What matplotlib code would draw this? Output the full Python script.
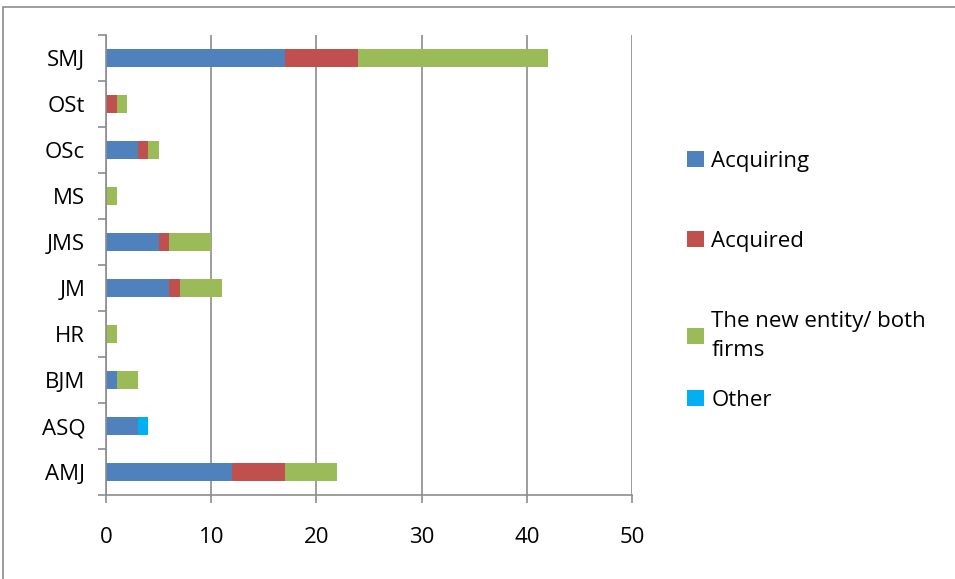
import numpy as np
import matplotlib.pyplot as plt
from matplotlib.patches import Rectangle

plt.rcParams['font.family'] = ['Open Sans', 'DejaVu Sans']

# Journals, bottom to top
journals = ['AMJ', 'ASQ', 'BJM', 'HR', 'JM', 'JMS', 'MS', 'OSc', 'OSt', 'SMJ']

acquiring = [12, 3, 1, 0, 6, 5, 0, 3, 0, 17]
acquired = [5, 0, 0, 0, 1, 1, 0, 1, 1, 7]
new_entity = [5, 0, 2, 1, 4, 4, 1, 1, 1, 18]
other = [0, 1, 0, 0, 0, 0, 0, 0, 0, 0]

series_names = ['Acquiring', 'Acquired', 'The new entity/ both\nfirms', 'Other']
series_colors = ['#4f81bd', '#c0504d', '#9bbb59', '#00b0f0']

FS = 16

fig = plt.figure(figsize=(9.55, 5.79), dpi=100)
ax = fig.add_axes([106 / 955, 1 - 495 / 579, (632 - 106) / 955, (495 - 35) / 579])

y = np.arange(len(journals))
left = np.zeros(len(journals))
handles = []
for vals, name, col in zip([acquiring, acquired, new_entity, other], series_names, series_colors):
    vals = np.array(vals, dtype=float)
    h = ax.barh(y, vals, left=left, height=0.39, color=col, label=name)
    handles.append(h)
    left += vals

ax.set_xlim(0, 50)
ax.set_ylim(-0.5, len(journals) - 0.5)
ax.set_xticks(range(0, 51, 10))
ax.set_yticks(y)
ax.set_yticklabels(journals)
ax.set_yticks(np.arange(-0.5, len(journals), 1.0), minor=True)

ax.grid(axis='x', color='#8c8c8c', linewidth=1.2)
ax.set_axisbelow(True)
for s in ['top', 'right']:
    ax.spines[s].set_visible(False)
for s in ['left', 'bottom']:
    ax.spines[s].set_color('#8c8c8c')
    ax.spines[s].set_linewidth(1.2)

ax.tick_params(axis='y', which='major', length=0, pad=15, labelsize=FS)
ax.tick_params(axis='y', which='minor', length=6, color='#8c8c8c', width=1.2)
ax.tick_params(axis='x', length=6, color='#8c8c8c', width=1.2, pad=17, labelsize=FS)

# legend entries placed one by one, like the spreadsheet layout
legend_y = [161, 241, 336, 400]
for h, name, ly in zip(handles, series_names, legend_y):
    leg = fig.legend(handles=[h], labels=[name], loc='center left',
                     bbox_to_anchor=(678 / 955, 1 - ly / 579), frameon=False,
                     fontsize=FS, handlelength=0.75, handleheight=0.75,
                     handletextpad=0.35, borderaxespad=0)
    for t in leg.get_texts():
        t.set_linespacing(1.55)

# outer chart border
fig.patches.append(Rectangle((3 / 955, -0.02), 1.0, 1 - 7 / 579 + 0.02,
                             transform=fig.transFigure, fill=False,
                             edgecolor='#8c8c8c', linewidth=1.2))

fig.savefig('out.png', dpi=100)
